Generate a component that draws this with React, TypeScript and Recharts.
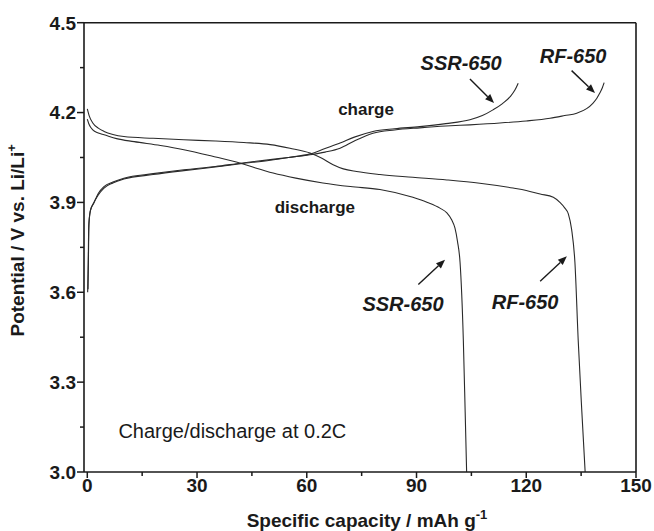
import React from 'react';
import { LineChart, Line, XAxis, YAxis, ReferenceLine, ReferenceDot, Label } from 'recharts';

const FONT = '"Liberation Sans", Arial, Helvetica, sans-serif';
const INK = '#1a1a1a';
const CURVE = '#2a2a2a';

// ---- axis ticks ----
const xMajorTicks = [0, 30, 60, 90, 120, 150];
const xMinorTicks = [15, 45, 75, 105, 135];
const yMajorTicks = [3.0, 3.3, 3.6, 3.9, 4.2, 4.5];
const yMinorTicks = [3.15, 3.45, 3.75, 4.05, 4.35];

// ---- series: [specific capacity (mAh/g), potential (V)] ----
const rfDischarge: [number, number][] = [
  [0, 4.212], [0.5, 4.19], [1.5, 4.165], [3, 4.148], [4.6, 4.137], [7, 4.127], [10, 4.12],
  [18, 4.114], [26.4, 4.109], [35, 4.105], [42.8, 4.1], [50, 4.093], [55.4, 4.081],
  [60.9, 4.065], [64, 4.048], [67.2, 4.026], [70, 4.012], [73.6, 4.003], [80, 3.993],
  [89, 3.984], [98.3, 3.975], [107.3, 3.964], [116.4, 3.948], [120, 3.94], [123.8, 3.928],
  [127.4, 3.917], [129.2, 3.9], [130.5, 3.882], [131.5, 3.862], [132.4, 3.81],
  [133.3, 3.7], [134.2, 3.44], [135.2, 3.2], [136.1, 3.0],
];

const ssrDischarge: [number, number][] = [
  [0, 4.178], [0.5, 4.16], [1.5, 4.142], [3, 4.132], [4.6, 4.126], [8, 4.113], [12.8, 4.103],
  [20, 4.09], [26.4, 4.076], [34, 4.055], [41.9, 4.031], [46, 4.015], [50.8, 3.998],
  [57, 3.981], [64.4, 3.965], [71.9, 3.953], [80, 3.943], [89, 3.917], [93, 3.9],
  [96.4, 3.881], [98.3, 3.865], [99.6, 3.842], [100.5, 3.815], [101.2, 3.77], [101.9, 3.7],
  [102.8, 3.44], [103.3, 3.2], [103.7, 3.0],
];

const rfCharge: [number, number][] = [
  [0.2, 3.61], [0.3, 3.7], [0.46, 3.83], [0.9, 3.875], [1.83, 3.899], [3, 3.93], [4.57, 3.953],
  [7, 3.968], [10, 3.981], [18, 3.996], [26.4, 4.009], [35, 4.02], [41.9, 4.031], [50, 4.043],
  [55, 4.05], [60.9, 4.059], [65, 4.068], [69.1, 4.081], [73, 4.105], [78.1, 4.131],
  [84, 4.142], [90.9, 4.149], [98, 4.155], [104.6, 4.159], [112.8, 4.165], [120, 4.172],
  [126.5, 4.181], [130.5, 4.19], [133.8, 4.198], [136.5, 4.213], [138.2, 4.231],
  [139.3, 4.248], [140.1, 4.265], [140.8, 4.283], [141.3, 4.3],
];

const ssrCharge: [number, number][] = [
  [0.1, 3.6], [0.25, 3.7], [0.4, 3.82], [0.8, 3.87], [1.6, 3.895], [3, 3.925], [4.57, 3.948],
  [7, 3.965], [10, 3.978], [18, 3.993], [26.4, 4.006], [35, 4.018], [41.9, 4.029], [50, 4.041],
  [55, 4.05], [60.9, 4.062], [65, 4.08], [69.1, 4.098], [73, 4.118], [78.1, 4.137],
  [84, 4.146], [90.9, 4.153], [98, 4.163], [104.6, 4.176], [108, 4.19], [110.9, 4.209],
  [113.5, 4.23], [115.6, 4.253], [116.9, 4.275], [117.8, 4.298],
];

const toPoints = (arr: [number, number][]) => arr.map(([x, y]) => ({ x, y }));

// ---- annotations (data coordinates) ----
const textNotes = [
  { text: 'SSR-650', x: 102.2, y: 4.366, italic: true, size: 20, bold: true, anchor: 'middle' },
  { text: 'RF-650', x: 132.8, y: 4.389, italic: true, size: 20, bold: true, anchor: 'middle' },
  { text: 'charge', x: 76.2, y: 4.212, italic: false, size: 17, bold: true, anchor: 'middle' },
  { text: 'discharge', x: 62.2, y: 3.886, italic: false, size: 17, bold: true, anchor: 'middle' },
  { text: 'SSR-650', x: 86.3, y: 3.562, italic: true, size: 20, bold: true, anchor: 'middle' },
  { text: 'RF-650', x: 119.7, y: 3.569, italic: true, size: 20, bold: true, anchor: 'middle' },
  { text: 'Charge/discharge at 0.2C', x: 8.5, y: 3.136, italic: false, size: 20, bold: false, anchor: 'start' },
];

const arrowNotes: { from: [number, number]; to: [number, number] }[] = [
  { from: [104.6, 4.312], to: [111.2, 4.232] },
  { from: [132.4, 4.34], to: [138.8, 4.265] },
  { from: [90.5, 3.626], to: [97.8, 3.709] },
  { from: [123.8, 3.637], to: [131.1, 3.72] },
];

const isIn = (list: number[], v: number) => list.some((t) => Math.abs(t - v) < 1e-6);

const YTick = (props: any) => {
  const { x, y, payload } = props;
  const v = payload.value;
  const major = isIn(yMajorTicks, v);
  return (
    <g>
      <line x1={x} x2={x - (major ? 7 : 4)} y1={y} y2={y} stroke={INK} strokeWidth={1.5} />
      {major && (
        <text x={x - 8} y={y} dy="0.36em" textAnchor="end" fontSize={19} fontWeight="bold" fontFamily={FONT} fill={INK}>
          {v.toFixed(1)}
        </text>
      )}
    </g>
  );
};

const XTick = (props: any) => {
  const { x, y, payload } = props;
  const v = payload.value;
  const major = isIn(xMajorTicks, v);
  return (
    <g>
      <line x1={x} x2={x} y1={y} y2={y + (major ? 6 : 4)} stroke={INK} strokeWidth={1.5} />
      {major && (
        <text x={x} y={y + 20} textAnchor="middle" fontSize={19} fontWeight="bold" fontFamily={FONT} fill={INK}>
          {String(v)}
        </text>
      )}
    </g>
  );
};

const XTitle = (props: any) => {
  const vb = props.viewBox || {};
  const cx = vb.x + vb.width / 2 + 7;
  const by = vb.y + 54.5;
  return (
    <text x={cx} y={by} textAnchor="middle" fontSize={19} fontWeight="bold" fontFamily={FONT} fill={INK}>
      <tspan>Specific capacity / mAh g</tspan>
      <tspan dy={-8} fontSize={13}>-1</tspan>
    </text>
  );
};

const YTitle = (props: any) => {
  const vb = props.viewBox || {};
  const bx = 24;
  const cy = vb.y + vb.height / 2 - 7;
  return (
    <text
      transform={`translate(${bx},${cy}) rotate(-90)`}
      x={0}
      y={0}
      textAnchor="middle"
      fontSize={19}
      fontWeight="bold"
      fontFamily={FONT}
      fill={INK}
    >
      <tspan>Potential / V vs. Li/Li</tspan>
      <tspan dy={-8} fontSize={13}>+</tspan>
    </text>
  );
};

const Arrow = (p: any) => {
  const { x1, y1, x2, y2 } = p;
  const dx = x2 - x1;
  const dy = y2 - y1;
  const L = Math.hypot(dx, dy) || 1;
  const ux = dx / L;
  const uy = dy / L;
  const hl = 9;
  const hw = 3.6;
  const bx = x2 - ux * hl;
  const by = y2 - uy * hl;
  const pts = `${x2},${y2} ${bx - uy * hw},${by + ux * hw} ${bx + uy * hw},${by - ux * hw}`;
  return (
    <g>
      <line x1={x1} y1={y1} x2={bx} y2={by} stroke={INK} strokeWidth={1.4} />
      <polygon points={pts} fill={INK} />
    </g>
  );
};

const makeTextShape = (n: (typeof textNotes)[number]) => (p: any) => (
  <text
    x={p.cx}
    y={p.cy}
    dy="0.36em"
    textAnchor={n.anchor as any}
    fontSize={n.size}
    fontWeight={n.bold ? 'bold' : 'normal'}
    fontStyle={n.italic ? 'italic' : 'normal'}
    fontFamily={FONT}
    fill={INK}
  >
    {n.text}
  </text>
);

const allX = [...xMajorTicks, ...xMinorTicks].sort((a, b) => a - b);
const allY = [...yMajorTicks, ...yMinorTicks].sort((a, b) => a - b);

export default function App() {
  return (
    <div style={{ position: 'absolute', left: 0, top: 0, width: 654, height: 531, background: '#fff' }}>
      <LineChart width={654} height={531} margin={{ top: 22.7, right: 18, bottom: 19, left: 24 }}>
        <XAxis
          type="number"
          dataKey="x"
          domain={[-0.9, 150]}
          ticks={allX}
          interval={0}
          allowDataOverflow
          height={40}
          tickSize={0}
          tickMargin={0}
          tickLine={false}
          tick={<XTick />}
          axisLine={{ stroke: INK, strokeWidth: 1.6 }}
        >
          <Label content={<XTitle />} />
        </XAxis>
        <YAxis
          type="number"
          dataKey="y"
          domain={[3.0, 4.5]}
          ticks={allY}
          interval={0}
          allowDataOverflow
          width={60}
          tickSize={0}
          tickMargin={0}
          tickLine={false}
          tick={<YTick />}
          axisLine={{ stroke: INK, strokeWidth: 1.6 }}
        >
          <Label content={<YTitle />} />
        </YAxis>
        <ReferenceLine y={4.5} stroke={INK} strokeWidth={1.6} />
        <ReferenceLine x={150} stroke={INK} strokeWidth={1.6} />

        <Line data={toPoints(rfDischarge)} dataKey="y" type="monotone" stroke={CURVE} strokeWidth={1.1} dot={false} isAnimationActive={false} />
        <Line data={toPoints(ssrDischarge)} dataKey="y" type="monotone" stroke={CURVE} strokeWidth={1.1} dot={false} isAnimationActive={false} />
        <Line data={toPoints(rfCharge)} dataKey="y" type="monotone" stroke={CURVE} strokeWidth={1.1} dot={false} isAnimationActive={false} />
        <Line data={toPoints(ssrCharge)} dataKey="y" type="monotone" stroke={CURVE} strokeWidth={1.1} dot={false} isAnimationActive={false} />

        {arrowNotes.map((a, i) => (
          <ReferenceLine
            key={`ar${i}`}
            segment={[{ x: a.from[0], y: a.from[1] }, { x: a.to[0], y: a.to[1] }]}
            shape={<Arrow />}
            ifOverflow="visible"
          />
        ))}
        {textNotes.map((n, i) => (
          <ReferenceDot key={`t${i}`} x={n.x} y={n.y} r={0} ifOverflow="visible" shape={makeTextShape(n)} />
        ))}
      </LineChart>
    </div>
  );
}
